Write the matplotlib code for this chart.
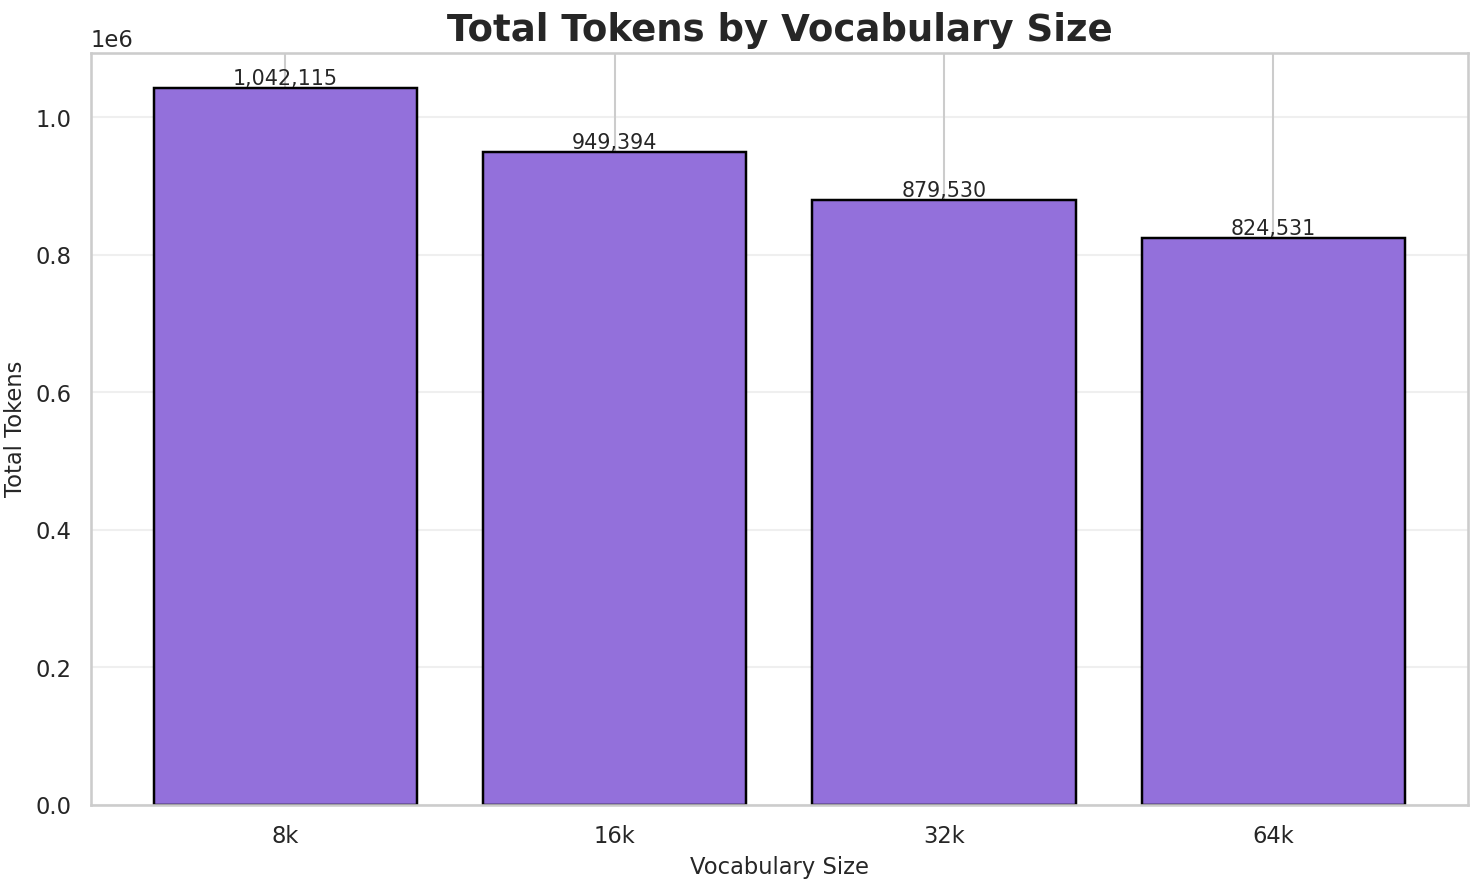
import matplotlib
matplotlib.use("Agg")
import matplotlib.pyplot as plt
import seaborn as sns

sns.set_theme(style="whitegrid")
plt.rcParams['font.family'] = ['DejaVu Sans']

categories = ["8k", "16k", "32k", "64k"]
values = [1042115, 949394, 879530, 824531]

fig, ax = plt.subplots(figsize=(10, 5.96), dpi=148.4)
bars = ax.bar(categories, values, color="mediumpurple", edgecolor="black", linewidth=1.2)
for b, v in zip(bars, values):
    ax.text(b.get_x() + b.get_width() / 2, v, f"{v:,}", ha="center", va="bottom", fontsize=10)
ax.set_title("Total Tokens by Vocabulary Size", fontsize=18, fontweight="bold")
ax.set_xlabel("Vocabulary Size", fontsize=11)
ax.set_ylabel("Total Tokens", fontsize=11)
ax.tick_params(labelsize=11)
ax.yaxis.get_offset_text().set_fontsize(11)
ax.grid(axis="y", alpha=0.3)
fig.subplots_adjust(left=0.0613, right=0.989, top=0.940, bottom=0.0893)
fig.savefig("out.png", dpi=148.4)
